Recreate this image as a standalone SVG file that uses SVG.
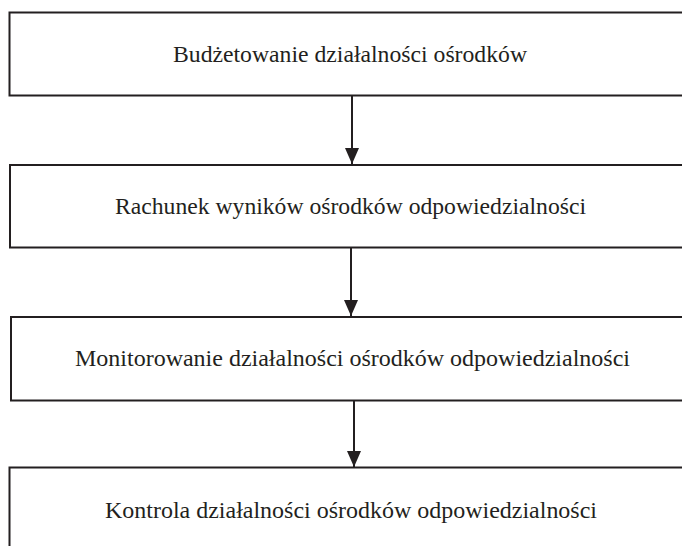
<svg xmlns="http://www.w3.org/2000/svg" width="682" height="546" viewBox="0 0 682 546">
<defs>
<marker id="ah" markerWidth="16" markerHeight="14" refX="16" refY="7" orient="auto" markerUnits="userSpaceOnUse" viewBox="0 0 16 14">
<path d="M0,0 L16,7 L0,14 Z" fill="#231f20"/>
</marker>
</defs>
<style>
.box{fill:#fff;stroke:#231f20;stroke-width:2}
.lbl{font-family:"Liberation Serif","Times New Roman",serif;font-size:24px;fill:#231f20;text-anchor:middle}
.conn{stroke:#231f20;stroke-width:2;fill:none}
</style>
<rect width="682" height="546" fill="#fff"/>
<g id="n1"><rect class="box" x="9.5" y="12.5" width="690" height="83"/><text class="lbl" x="350" y="62" textLength="354" lengthAdjust="spacingAndGlyphs">Budżetowanie działalności ośrodków</text></g>
<g id="n2"><rect class="box" x="10" y="165" width="690" height="82.5"/><text class="lbl" x="350.5" y="214" textLength="471" lengthAdjust="spacingAndGlyphs">Rachunek wyników ośrodków odpowiedzialności</text></g>
<g id="n3"><rect class="box" x="11" y="317" width="690" height="83.5"/><text class="lbl" x="352.5" y="366" textLength="555" lengthAdjust="spacingAndGlyphs">Monitorowanie działalności ośrodków odpowiedzialności</text></g>
<g id="n4"><rect class="box" x="9.5" y="467.5" width="690" height="100"/><text class="lbl" x="351" y="518" textLength="492" lengthAdjust="spacingAndGlyphs">Kontrola działalności ośrodków odpowiedzialności</text></g>
<g id="connectors">
<line class="conn" x1="352" y1="96" x2="352" y2="164" marker-end="url(#ah)"/>
<line class="conn" x1="351" y1="248" x2="351" y2="316" marker-end="url(#ah)"/>
<line class="conn" x1="354" y1="401" x2="354" y2="467" marker-end="url(#ah)"/>
</g>
</svg>
